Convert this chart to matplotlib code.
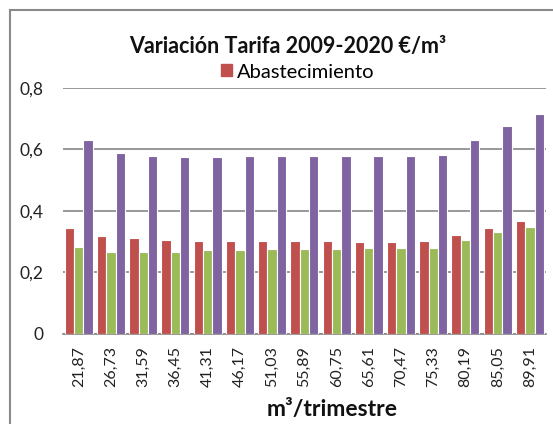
import numpy as np
import matplotlib
matplotlib.use("Agg")
import matplotlib.pyplot as plt
from matplotlib.patches import Patch, Rectangle

plt.rcParams['font.family'] = ['Lato', 'DejaVu Sans']

# datos
categorias = ["21,87", "26,73", "31,59", "36,45", "41,31", "46,17", "51,03", "55,89",
              "60,75", "65,61", "70,47", "75,33", "80,19", "85,05", "89,91"]
abastecimiento = [0.343, 0.318, 0.311, 0.305, 0.301, 0.301, 0.301, 0.301,
                  0.301, 0.298, 0.298, 0.301, 0.322, 0.344, 0.365]
serie_verde = [0.283, 0.267, 0.267, 0.267, 0.271, 0.271, 0.276, 0.276,
               0.276, 0.280, 0.280, 0.280, 0.305, 0.330, 0.347]
serie_morada = [0.629, 0.587, 0.577, 0.574, 0.574, 0.577, 0.577, 0.577,
                0.577, 0.577, 0.577, 0.581, 0.632, 0.676, 0.714]
yticks = [0, 0.2, 0.4, 0.6, 0.8]
ytick_labels = ["0", "0,2", "0,4", "0,6", "0,8"]

W, H = 553, 424
fig = plt.figure(figsize=(W / 100, H / 100), dpi=100)

# posición del área de trazado en píxeles
x0, x1 = 62.7, 546
y0, y1 = 333.5, 88
ax = fig.add_axes([x0 / W, 1 - y0 / H, (x1 - x0) / W, (y0 - y1) / H])

x = np.arange(len(categorias))
w = 0.29
ax.bar(x - w, abastecimiento, w, color='#C0504D', edgecolor='white', linewidth=0.8, zorder=3)
ax.bar(x, serie_verde, w, color='#9BBB59', edgecolor='white', linewidth=0.8, zorder=3)
ax.bar(x + w, serie_morada, w, color='#8064A2', edgecolor='white', linewidth=0.8, zorder=3)

ax.set_xlim(-0.5, len(categorias) - 0.5)
ax.set_ylim(0, 0.8)
ax.set_yticks(yticks)
ax.set_yticklabels(ytick_labels, fontsize=12.5, color='#222222')
ax.set_xticks(x)
ax.set_xticklabels(categorias, rotation=90, fontsize=11.5, color='#222222')
ax.tick_params(axis='y', length=0, pad=14)
ax.tick_params(axis='x', length=0, pad=9)

ax.grid(axis='y', color='#868686', linewidth=1.2, zorder=0)
ax.set_axisbelow(True)
for s in ['top', 'right', 'left']:
    ax.spines[s].set_visible(False)
ax.spines['bottom'].set_color('#868686')
ax.spines['bottom'].set_linewidth(1.2)
ax.patch.set_alpha(0)

# textos
fig.text(288 / W, 1 - 53 / H, "Variación Tarifa 2009-2020 €/m³", ha='center', va='baseline',
         fontsize=15.5, fontweight='bold', color='#111111')
fig.text(332 / W, 1 - 416 / H, "m³/trimestre", ha='center', va='baseline',
         fontsize=16.5, fontweight='bold', color='#111111')
fig.legend(handles=[Patch(color='#C0504D', label='Abastecimiento')],
           loc='center', bbox_to_anchor=(298 / W, 1 - 72 / H), frameon=False,
           fontsize=14.5, handlelength=0.55, handleheight=0.55, handletextpad=0.25,
           borderpad=0, borderaxespad=0)

# marco del gráfico
fig.patches.append(Rectangle((9.5 / W, -0.1), 1.2, 1.1 - 10 / H, transform=fig.transFigure,
                             fill=False, edgecolor='#8a8a8a', linewidth=1.5))

fig.savefig("out.png", dpi=100)
